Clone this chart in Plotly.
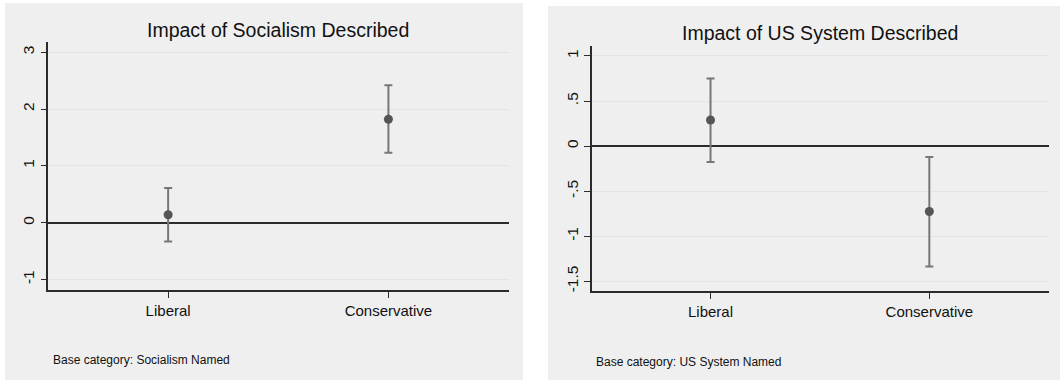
import plotly.graph_objects as go

W, H = 1060, 380

# Categories and estimates with 95% confidence bounds
categories = ["Liberal", "Conservative"]

soc_est = [0.14, 1.82]
soc_lower = [-0.33, 1.23]
soc_upper = [0.61, 2.42]

us_est = [0.29, -0.725]
us_lower = [-0.175, -1.335]
us_upper = [0.75, -0.12]

soc_ticks = [-1, 0, 1, 2, 3]
soc_ticktext = ["-1", "0", "1", "2", "3"]
us_ticks = [-1.5, -1, -0.5, 0, 0.5, 1]
us_ticktext = ["-1.5", "-1", "-.5", "0", ".5", "1"]

FONT = "Liberation Sans, Arial, Helvetica, sans-serif"
PANEL = "#efefef"
GRID = "#e4e4e4"
AXIS = "#2b2b2b"
BAR = "#777777"
DOT = "#555555"


def px(x):
    return x / W


def py(y):
    return 1 - y / H


def err(est, lo, hi):
    return dict(
        type="data", symmetric=False,
        array=[h - e for e, h in zip(est, hi)],
        arrayminus=[e - l for e, l in zip(est, lo)],
        color=BAR, thickness=2, width=4,
    )


fig = go.Figure()
xs = list(range(len(categories)))

fig.add_trace(go.Scatter(
    x=xs, y=soc_est, mode="markers", xaxis="x", yaxis="y",
    marker=dict(color=DOT, size=9), error_y=err(soc_est, soc_lower, soc_upper),
    showlegend=False, hoverinfo="skip",
))
fig.add_trace(go.Scatter(
    x=xs, y=us_est, mode="markers", xaxis="x2", yaxis="y2",
    marker=dict(color=DOT, size=9), error_y=err(us_est, us_lower, us_upper),
    showlegend=False, hoverinfo="skip",
))

xcommon = dict(
    tickvals=xs, ticktext=categories, range=[-0.544, 1.546],
    showgrid=False, zeroline=False, showline=True, linecolor=AXIS, linewidth=1.5,
    ticks="outside", ticklen=6, tickcolor=AXIS, tickwidth=1.2,
    tickfont=dict(family=FONT, size=15, color="#111"), fixedrange=True,
)
ycommon = dict(
    showgrid=True, gridcolor=GRID, gridwidth=1.2,
    zeroline=True, zerolinecolor=AXIS, zerolinewidth=1.5,
    showline=True, linecolor=AXIS, linewidth=1.5,
    ticks="outside", ticklen=6, tickcolor=AXIS, tickwidth=1.2, tickangle=-90,
    tickfont=dict(family=FONT, size=15.5, color="#111"), fixedrange=True,
)

fig.update_layout(
    width=W, height=H,
    margin=dict(l=0, r=0, t=0, b=0),
    paper_bgcolor="white", plot_bgcolor="white",
    xaxis=dict(domain=[px(48.3), px(508.7)], anchor="y", **xcommon),
    yaxis=dict(domain=[py(290), py(42.3)], anchor="x", range=[-1.185, 3.175],
               tickvals=soc_ticks, ticktext=soc_ticktext, **ycommon),
    xaxis2=dict(domain=[px(591.5), px(1048.8)], anchor="y2", **xcommon),
    yaxis2=dict(domain=[py(291.4), py(45.6)], anchor="x2", range=[-1.612, 1.115],
                tickvals=us_ticks, ticktext=us_ticktext, **ycommon),
    shapes=[
        dict(type="rect", xref="paper", yref="paper", layer="below",
             x0=px(5), x1=px(523), y0=0, y1=py(3),
             fillcolor=PANEL, line=dict(width=0)),
        dict(type="rect", xref="paper", yref="paper", layer="below",
             x0=px(548), x1=1, y0=0, y1=py(6),
             fillcolor=PANEL, line=dict(width=0)),
    ],
    annotations=[
        dict(text="Impact of Socialism Described", x=px(278), y=py(30),
             xref="paper", yref="paper", showarrow=False,
             xanchor="center", yanchor="middle",
             font=dict(family=FONT, size=19.5, color="#111")),
        dict(text="Impact of US System Described", x=px(820), y=py(33),
             xref="paper", yref="paper", showarrow=False,
             xanchor="center", yanchor="middle",
             font=dict(family=FONT, size=19.5, color="#111")),
        dict(text="Base category: Socialism Named", x=px(50.5), y=py(360),
             xref="paper", yref="paper", showarrow=False,
             xanchor="left", yanchor="middle",
             font=dict(family=FONT, size=12, color="#111")),
        dict(text="Base category: US System Named", x=px(594), y=py(361.5),
             xref="paper", yref="paper", showarrow=False,
             xanchor="left", yanchor="middle",
             font=dict(family=FONT, size=12, color="#111")),
    ],
)

fig.write_html("out.html")
